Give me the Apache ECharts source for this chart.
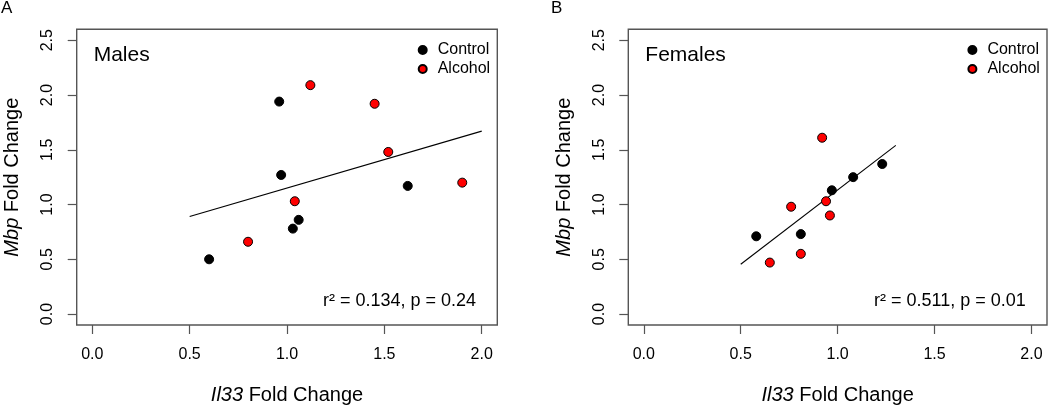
<!DOCTYPE html>
<html>
<head>
<meta charset="utf-8">
<script src="https://cdn.jsdelivr.net/npm/echarts@6/dist/echarts.min.js"></script>
<style>html,body{margin:0;padding:0;background:#fff}#c{width:1050px;height:410px}</style>
</head>
<body>
<div id="c"></div>
<script>
// ---- data ----
const xTickValues = [0, 0.5, 1.0, 1.5, 2.0];
const yTickValues = [0, 0.5, 1.0, 1.5, 2.0, 2.5];
const groupNames = ['Control', 'Alcohol'];

const maleCtrlX = [0.60, 0.96, 0.97, 1.03, 1.06, 1.62];
const maleCtrlY = [0.50, 1.94, 1.27, 0.78, 0.86, 1.17];
const maleAlcX  = [0.80, 1.04, 1.12, 1.45, 1.52, 1.90];
const maleAlcY  = [0.66, 1.03, 2.09, 1.92, 1.48, 1.20];
const maleFitX  = [0.5, 2.0];
const maleFitY  = [0.89, 1.67];

const femaleCtrlX = [0.58, 0.81, 0.97, 1.08, 1.23];
const femaleCtrlY = [0.71, 0.73, 1.13, 1.25, 1.37];
const femaleAlcX  = [0.65, 0.76, 0.81, 0.92, 0.94, 0.96];
const femaleAlcY  = [0.47, 0.98, 0.55, 1.61, 1.03, 0.90];
const femaleFitX  = [0.5, 1.3];
const femaleFitY  = [0.455, 1.54];

const panelLabels = ['A', 'B'];
const panelTitles = ['Males', 'Females'];
const statTexts = ['r\u00B2 = 0.134, p = 0.24', 'r\u00B2 = 0.511, p = 0.01'];

// ---- layout ----
const FONT = "'Liberation Sans', Arial, Helvetica, sans-serif";
const xMin = xTickValues[0], xMax = xTickValues[xTickValues.length - 1];
const yMin = yTickValues[0], yMax = yTickValues[yTickValues.length - 1];
const xPad = (xMax - xMin) * 0.04, yPad = (yMax - yMin) * 0.04;
const boxTop = 29.3, boxBottom = 326.7;
const panels = [
  {boxLeft: 76.7, boxRight: 497.3},
  {boxLeft: 628.3, boxRight: 1047.0}
];
const zip = (xs, ys) => xs.map((x, i) => [x, ys[i]]);
const dataSets = [
  {ctrl: zip(maleCtrlX, maleCtrlY), alc: zip(maleAlcX, maleAlcY), fit: zip(maleFitX, maleFitY)},
  {ctrl: zip(femaleCtrlX, femaleCtrlY), alc: zip(femaleAlcX, femaleAlcY), fit: zip(femaleFitX, femaleFitY)}
];

const grid = [], xAxis = [], yAxis = [], series = [], title = [], legend = [];
const axisColor = '#555';
const nameStyle = {fontSize: 20, color: '#000', fontFamily: FONT,
  rich: {i: {fontStyle: 'italic', fontSize: 20, color: '#000', fontFamily: FONT}}};
panels.forEach((p, k) => {
  const bw = p.boxRight - p.boxLeft, bh = boxBottom - boxTop;
  grid.push({left: p.boxLeft, top: boxTop, width: bw, height: bh, show: true,
    borderColor: axisColor, borderWidth: 1.4, backgroundColor: 'transparent'});
  xAxis.push({gridIndex: k, type: 'value', min: xMin - xPad, max: xMax + xPad,
    axisLine: {show: false, onZero: false},
    axisTick: {show: true, inside: false, length: 9, customValues: xTickValues,
      lineStyle: {color: axisColor, width: 1.2}},
    axisLabel: {show: true, fontSize: 16, color: '#000', margin: 22, fontFamily: FONT,
      customValues: xTickValues, formatter: v => Number(v).toFixed(1)},
    splitLine: {show: false},
    name: '{i|Il33} Fold Change', nameLocation: 'middle', nameGap: 60,
    nameTextStyle: nameStyle
  });
  yAxis.push({gridIndex: k, type: 'value', min: yMin - yPad, max: yMax + yPad,
    axisLine: {show: false, onZero: false},
    axisTick: {show: true, inside: false, length: 9, customValues: yTickValues,
      lineStyle: {color: axisColor, width: 1.2}},
    axisLabel: {show: true, fontSize: 16, color: '#000', margin: 21, rotate: 90, fontFamily: FONT,
      customValues: yTickValues, formatter: v => Number(v).toFixed(1)},
    splitLine: {show: false},
    name: '{i|Mbp} Fold Change', nameLocation: 'middle', nameGap: 54,
    nameTextStyle: nameStyle
  });
  const d = dataSets[k];
  series.push({type: 'scatter', name: groupNames[0], xAxisIndex: k, yAxisIndex: k,
    data: d.ctrl, symbol: 'circle', symbolSize: 9,
    itemStyle: {color: '#000', borderColor: '#000', borderWidth: 1, opacity: 1}, z: 3});
  series.push({type: 'scatter', name: groupNames[1], xAxisIndex: k, yAxisIndex: k,
    data: d.alc, symbol: 'circle', symbolSize: 9,
    itemStyle: {color: '#ff0000', borderColor: '#000', borderWidth: 1, opacity: 1}, z: 3});
  series.push({type: 'line', name: 'fit' + k, xAxisIndex: k, yAxisIndex: k,
    data: d.fit, showSymbol: false, symbol: 'none', silent: true,
    lineStyle: {color: '#000', width: 1.1}, z: 2});

  title.push({text: panelLabels[k], left: k === 0 ? 1 : 551, top: 0, padding: 0,
    textStyle: {fontSize: 17, fontWeight: 'normal', color: '#000', fontFamily: FONT}});
  title.push({text: panelTitles[k], left: p.boxLeft + 17, top: 45, padding: 0,
    textStyle: {fontSize: 21, fontWeight: 'normal', color: '#000', fontFamily: FONT}});
  title.push({text: statTexts[k], right: 1050 - (p.boxRight - 21.3), top: 292.5, padding: 0,
    textStyle: {fontSize: 18, fontWeight: 'normal', color: '#000', fontFamily: FONT}});

  legend.push({data: groupNames, orient: 'vertical', left: p.boxRight - 79.6, top: 42, padding: 0,
    itemWidth: 8, itemHeight: 8, itemGap: 3, icon: 'circle', selectedMode: false,
    textStyle: {fontSize: 16, color: '#000', fontFamily: FONT, lineHeight: 16, padding: [0, 0, 0, 6]}});
});

const chart = echarts.init(document.getElementById('c'), null, {renderer: 'canvas'});
chart.setOption({
  animation: false,
  backgroundColor: '#fff',
  textStyle: {fontFamily: FONT},
  title, legend, grid, xAxis, yAxis, series
});
</script>
</body>
</html>
